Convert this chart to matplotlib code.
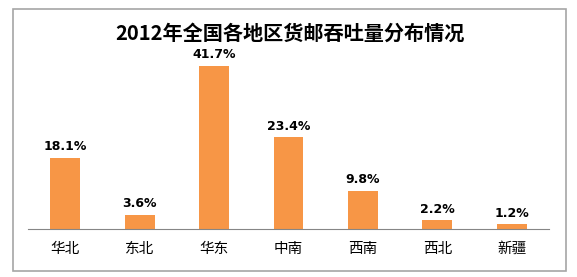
import matplotlib
matplotlib.use('Agg')
import matplotlib.pyplot as plt
from matplotlib.patches import Rectangle

plt.rcParams['font.family'] = ['Noto Sans CJK SC', 'DejaVu Sans']

regions = ['华北', '东北', '华东', '中南', '西南', '西北', '新疆']
shares = [18.1, 3.6, 41.7, 23.4, 9.8, 2.2, 1.2]
title = '2012年全国各地区货邮吞吐量分布情况'

W, H = 577, 277
fig = plt.figure(figsize=(W / 100, H / 100), dpi=100)

# outer frame
fig.patches.append(Rectangle((13 / W, 1 - 271 / H), (566 - 13) / W, (271 - 8.5) / H,
                             transform=fig.transFigure, fill=False,
                             edgecolor='#a6a6a6', linewidth=1.2))

ax = fig.add_axes([28 / W, 1 - 229 / H, (549 - 28) / W, (229 - 45) / H])
x = range(len(regions))
bars = ax.bar(x, shares, width=0.4, color='#f79646')
for xi, v in zip(x, shares):
    ax.text(xi, v + 1.2, f'{v}%', ha='center', va='bottom',
            fontsize=9, fontweight='bold', family='DejaVu Sans')

ax.set_xlim(-0.5, len(regions) - 0.5)
ax.set_ylim(0, 47)
ax.set_xticks(list(x))
ax.set_xticklabels(regions, fontsize=10.5)
ax.tick_params(axis='x', length=0, pad=9)
ax.set_yticks([])
for s in ['top', 'right', 'left']:
    ax.spines[s].set_visible(False)
ax.spines['bottom'].set_color('#868686')

fig.text(0.5 * (13 + 566) / W, 1 - 33 / H, title, ha='center', va='center',
         fontsize=14.5, fontweight='bold')

fig.savefig('out.png', dpi=100)
